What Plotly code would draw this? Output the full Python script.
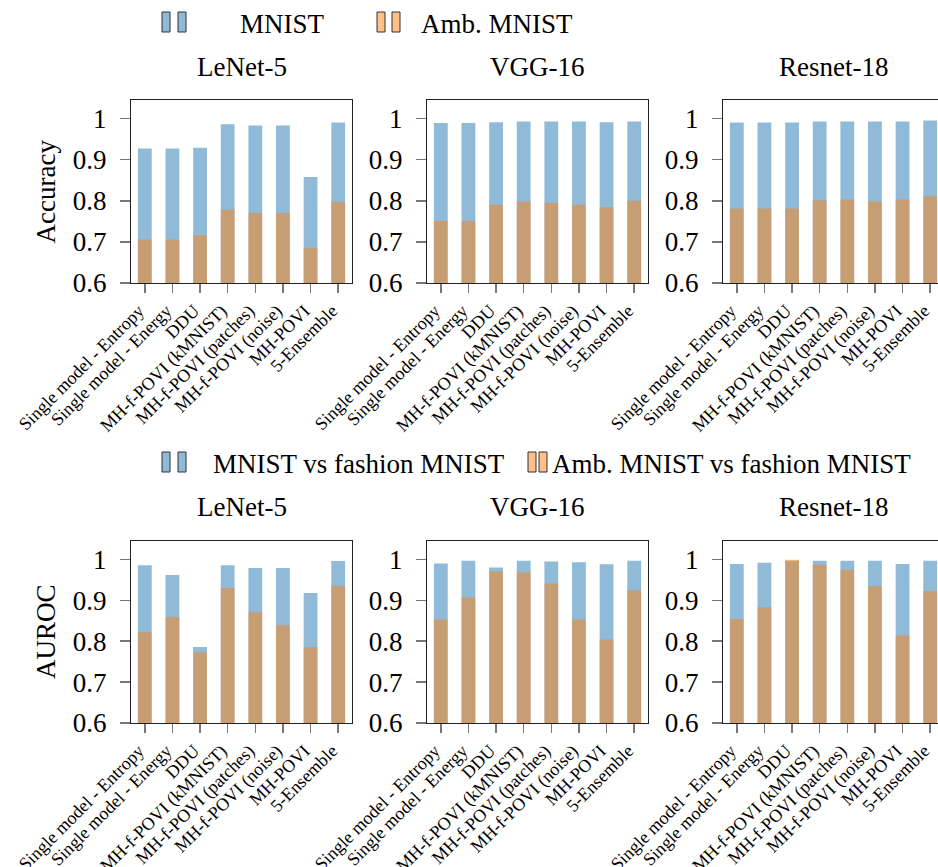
import plotly.graph_objects as go

# ---------------- data ----------------
methods = ["Single model - Entropy", "Single model - Energy", "DDU",
           "MH-f-POVI (kMNIST)", "MH-f-POVI (patches)", "MH-f-POVI (noise)",
           "MH-POVI", "5-Ensemble"]
architectures = ["LeNet-5", "VGG-16", "Resnet-18"]

# Accuracy (top row)
acc_mnist_lenet = [0.927, 0.927, 0.929, 0.986, 0.983, 0.983, 0.858, 0.990]
acc_amb_lenet = [0.706, 0.706, 0.716, 0.778, 0.770, 0.770, 0.686, 0.797]
acc_mnist_vgg = [0.989, 0.989, 0.991, 0.993, 0.993, 0.993, 0.991, 0.993]
acc_amb_vgg = [0.751, 0.751, 0.790, 0.798, 0.795, 0.790, 0.784, 0.800]
acc_mnist_resnet = [0.990, 0.990, 0.990, 0.993, 0.993, 0.993, 0.993, 0.995]
acc_amb_resnet = [0.781, 0.781, 0.781, 0.801, 0.803, 0.798, 0.803, 0.811]

# AUROC (bottom row)
auroc_mnist_lenet = [0.986, 0.962, 0.786, 0.986, 0.979, 0.979, 0.918, 0.996]
auroc_amb_lenet = [0.822, 0.859, 0.773, 0.930, 0.871, 0.839, 0.786, 0.935]
auroc_mnist_vgg = [0.990, 0.997, 0.980, 0.997, 0.995, 0.993, 0.988, 0.997]
auroc_amb_vgg = [0.853, 0.907, 0.971, 0.968, 0.941, 0.853, 0.804, 0.924]
auroc_mnist_resnet = [0.989, 0.992, 0.997, 0.997, 0.997, 0.997, 0.989, 0.997]
auroc_amb_resnet = [0.854, 0.883, 0.999, 0.987, 0.975, 0.935, 0.814, 0.923]

y_ticks = [0.6, 0.7, 0.8, 0.9, 1.0]
y_tick_labels = ["0.6", "0.7", "0.8", "0.9", "1"]
legend_top = ["MNIST", "Amb. MNIST"]
legend_bottom = ["MNIST vs fashion MNIST", "Amb. MNIST vs fashion MNIST"]
row_labels = ["Accuracy", "AUROC"]

panels = [
    (acc_mnist_lenet, acc_amb_lenet), (acc_mnist_vgg, acc_amb_vgg), (acc_mnist_resnet, acc_amb_resnet),
    (auroc_mnist_lenet, auroc_amb_lenet), (auroc_mnist_vgg, auroc_amb_vgg), (auroc_mnist_resnet, auroc_amb_resnet),
]

# ---------------- styling ----------------
W, H = 938, 867
FONT = "Liberation Serif"
BLUE = "rgba(31,119,180,0.5)"
ORANGE = "rgba(255,127,14,0.5)"
LINE = "#222222"
TICKC = "#777777"
TXT = 27


def px(x):
    return x / W


def py(y):
    return 1 - y / H


x_dom_px = [(131, 352), (427, 648), (723, 938)]
y_dom_px = [(100, 283), (541, 723)]
unit = 221 / 8.0

fig = go.Figure()
layout = dict(
    width=W, height=H, margin=dict(l=0, r=0, t=0, b=0, autoexpand=False),
    paper_bgcolor="white", plot_bgcolor="white",
    barmode="overlay", showlegend=False, hovermode=False,
    font=dict(family=FONT, color="black"),
)

for k, (mn, amb) in enumerate(panels):
    r, c = divmod(k, 3)
    n = k + 1
    xs = "" if n == 1 else str(n)
    xa, ya = "x" + xs, "y" + xs
    idx = list(range(len(methods)))
    fig.add_trace(go.Bar(x=idx, y=mn, width=0.5, marker=dict(color=BLUE, line=dict(width=0)),
                         xaxis=xa, yaxis=ya, cliponaxis=True,
                         name=legend_top[0] if r == 0 else legend_bottom[0]))
    fig.add_trace(go.Bar(x=idx, y=amb, width=0.5, marker=dict(color=ORANGE, line=dict(width=0)),
                         xaxis=xa, yaxis=ya, cliponaxis=True,
                         name=legend_top[1] if r == 0 else legend_bottom[1]))
    x0, x1 = x_dom_px[c]
    y0, y1 = y_dom_px[r]
    xr = [-0.5, -0.5 + (x1 - x0) / unit]
    layout["xaxis" + xs] = dict(
        domain=[px(x0), px(x1)], range=xr, anchor=ya, automargin=False,
        tickmode="array", tickvals=idx, ticktext=methods, tickangle=-45,
        ticks="outside", ticklen=9, tickwidth=1.5, tickcolor=TICKC,
        ticklabeloverflow="allow", ticklabelshift=-6,
        showline=True, linecolor=LINE, linewidth=1.2, mirror=True,
        showgrid=False, zeroline=False, tickfont=dict(size=18, family=FONT),
    )
    layout["yaxis" + xs] = dict(
        domain=[py(y1), py(y0)], range=[0.6, 1.045], anchor=xa, automargin=False,
        tickmode="array", tickvals=y_ticks, ticktext=y_tick_labels,
        ticks="outside", ticklen=10, tickwidth=1.5, tickcolor=TICKC,
        showline=True, linecolor=LINE, linewidth=1.2, mirror=(c != 2),
        showgrid=False, zeroline=False, tickfont=dict(size=27, family=FONT),
        ticklabelstandoff=8,
    )

annotations = []
shapes = []

# subplot titles
for r, ty in enumerate([67, 507]):
    for c, name in enumerate(architectures):
        cx = x_dom_px[c][0] + 221 / 2
        annotations.append(dict(x=px(cx), y=py(ty), xref="paper", yref="paper", text=name,
                                showarrow=False, xanchor="center", yanchor="middle",
                                font=dict(size=TXT, family=FONT)))

# row y labels
for r, lab in enumerate(row_labels):
    cy = (y_dom_px[r][0] + y_dom_px[r][1]) / 2
    annotations.append(dict(x=px(46), y=py(cy), xref="paper", yref="paper", text=lab,
                            showarrow=False, textangle=-90, xanchor="center", yanchor="middle",
                            font=dict(size=TXT, family=FONT)))


def legend_icons(x_left, y_top, color, gap):
    for dx in (0, gap):
        shapes.append(dict(type="rect", xref="paper", yref="paper",
                           x0=px(x_left + dx), x1=px(x_left + dx + 8),
                           y0=py(y_top + 20), y1=py(y_top),
                           fillcolor=color, line=dict(color="#333333", width=1)))


def legend_text(x_left, y_mid, text, size=TXT):
    annotations.append(dict(x=px(x_left), y=py(y_mid), xref="paper", yref="paper", text=text,
                            showarrow=False, xanchor="left", yanchor="middle",
                            font=dict(size=size, family=FONT)))


# top legend
legend_icons(162, 12, BLUE, 16)
legend_text(238, 24, legend_top[0])
legend_icons(377, 12, ORANGE, 15)
legend_text(419, 24, legend_top[1])
# bottom legend
legend_icons(162, 452, BLUE, 16)
legend_text(211, 464, legend_bottom[0])
legend_icons(528, 452, ORANGE, 11)
legend_text(550, 464, legend_bottom[1])

layout["annotations"] = annotations
layout["shapes"] = shapes
fig.update_layout(**layout)
fig.write_html("out.html", config={"displayModeBar": False, "staticPlot": True},
               post_script="document.body.style.margin='0';document.body.style.overflow='hidden';")
